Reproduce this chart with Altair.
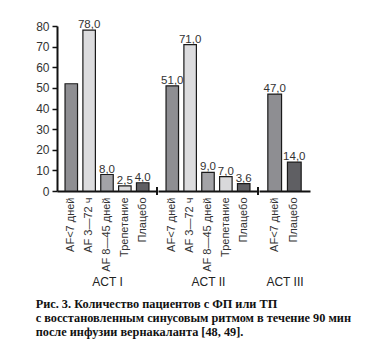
import altair as alt
import pandas as pd

# ---- data ----
group_titles = ["ACT I", "ACT II", "ACT III"]

cats_1 = ["AF<7 дней", "AF 3—72 ч", "AF 8—45 дней", "Трепетание", "Плацебо"]
vals_1 = [52.0, 78.0, 8.0, 2.5, 4.0]
labs_1 = ["", "78,0", "8,0", "2,5", "4,0"]

cats_2 = ["AF<7 дней", "AF 3—72 ч", "AF 8—45 дней", "Трепетание", "Плацебо"]
vals_2 = [51.0, 71.0, 9.0, 7.0, 3.6]
labs_2 = ["51,0", "71,0", "9,0", "7,0", "3,6"]

cats_3 = ["AF<7 дней", "Плацебо"]
vals_3 = [47.0, 14.0]
labs_3 = ["47,0", "14,0"]

color_domain = ["AF<7 дней", "AF 3—72 ч", "AF 8—45 дней", "Трепетание", "Плацебо"]
color_range = ["#8e8e92", "#dcdcde", "#a3a3a7", "#d9d9db", "#5f5f63"]

y_ticks = [0, 10, 20, 30, 40, 50, 60, 70, 80]

caption = [
    "Рис. 3. Количество пациентов с ФП или ТП",
    "с восстановленным синусовым ритмом в течение 90 мин",
    "после инфузии вернакаланта [48, 49].",
]

SANS = "Liberation Sans"
H = 165


def panel(cats, vals, labs, title, width, show_y):
    df = pd.DataFrame({"cat": cats, "val": vals, "lab": labs})
    x = alt.X(
        "cat:N",
        sort=cats,
        scale=alt.Scale(paddingInner=0.3, paddingOuter=0.45),
        axis=alt.Axis(
            title=title,
            labelAngle=-90,
            ticks=False,
            domainColor="#111",
            domainWidth=2,
            labelPadding=6,
            labelFont=SANS,
            labelFontSize=11,
            labelColor="#333",
            labelLimit=200,
            titleFont=SANS,
            titleFontSize=12,
            titleFontWeight="normal",
            titleColor="#222",
            titleX=width / 2,
            titleY=90,
            titleBaseline="middle",
        ),
    )
    if show_y:
        yaxis = alt.Axis(
            values=y_ticks,
            title=None,
            grid=False,
            labelOverlap=False,
            domainColor="#111",
            domainWidth=2,
            tickColor="#111",
            tickWidth=1.5,
            tickSize=5,
            labelPadding=3,
            labelFont=SANS,
            labelFontSize=12,
            labelColor="#333",
        )
    else:
        yaxis = None
    y = alt.Y("val:Q", scale=alt.Scale(domain=[0, 80], nice=False), axis=yaxis)
    base = alt.Chart(df).encode(x=x, y=y)
    bars = base.mark_bar(stroke="#1a1a1a", strokeWidth=1.2).encode(
        color=alt.Color(
            "cat:N",
            scale=alt.Scale(domain=color_domain, range=color_range),
            legend=None,
        ),
    )
    text = base.mark_text(
        dy=-2, baseline="alphabetic", font=SANS, fontSize=11.5, color="#333"
    ).encode(text="lab:N")
    sep = alt.Chart(df).mark_rule(color="#111", strokeWidth=1).encode(
        x=alt.value(width), y=alt.value(H - 4), y2=alt.value(H + 4)
    )
    layers = [bars, text]
    if width > 60:
        layers.append(sep)
    return alt.layer(*layers).properties(width=width, height=H)


p1 = panel(cats_1, vals_1, labs_1, group_titles[0], 100, True)
p2 = panel(cats_2, vals_2, labs_2, group_titles[1], 100, False)
p3 = panel(cats_3, vals_3, labs_3, group_titles[2], 51, False)

chart = (
    alt.hconcat(p1, p2, p3, spacing=0)
    .resolve_scale(y="shared", color="shared")
    .properties(
        title=alt.TitleParams(
            text=caption,
            orient="bottom",
            anchor="start",
            font="Liberation Serif",
            fontSize=12.3,
            fontWeight="bold",
            color="#111",
            lineHeight=14,
            offset=11,
        ),
        padding={"left": 27, "top": 11, "right": 5, "bottom": 5},
        background="white",
    )
    .configure_view(stroke=None)
)

chart.save("out.html", embed_options={"renderer": "svg", "actions": False})
